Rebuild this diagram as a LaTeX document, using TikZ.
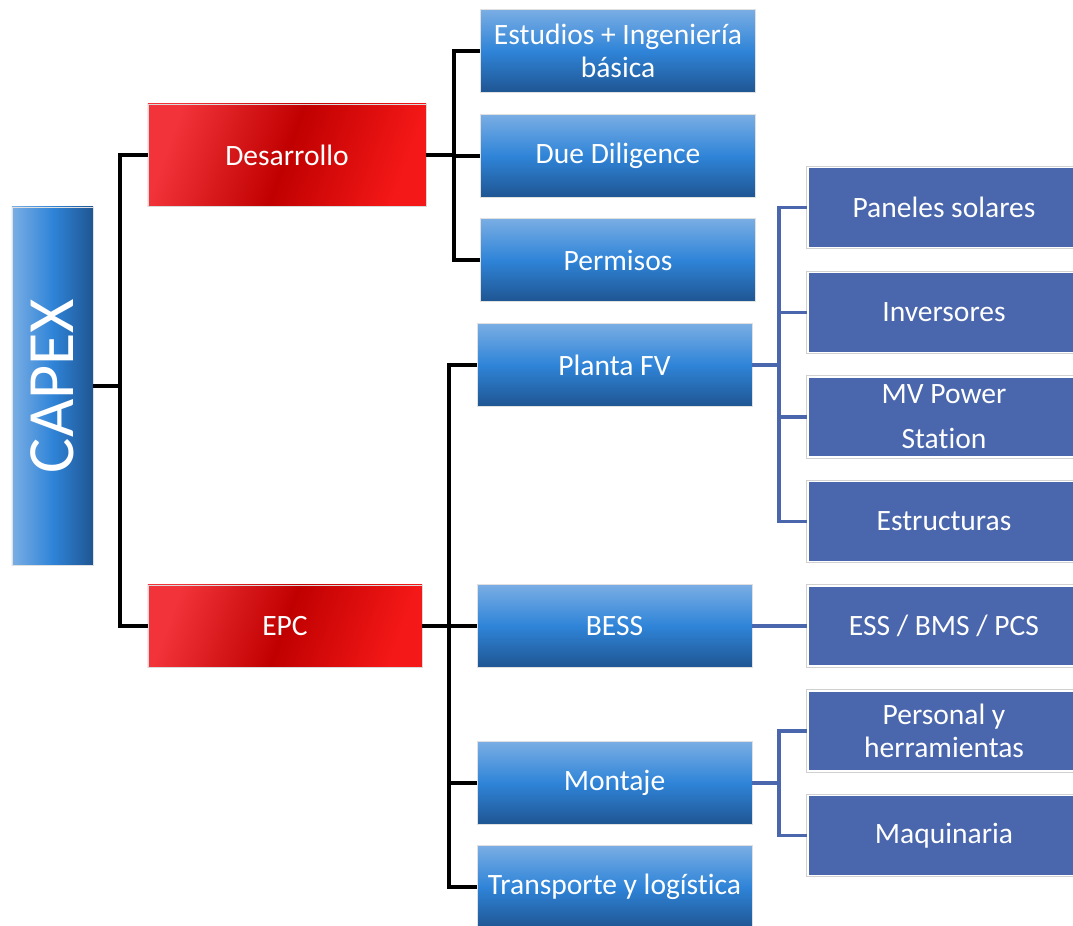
\documentclass[tikz,border=0pt]{standalone}
\usepackage{fontspec}
\setmainfont{Carlito}[Ligatures = NoCommon]
\usepackage{tikz}
\usetikzlibrary{positioning,calc}

\definecolor{lblue}{HTML}{7AAEE4}
\definecolor{mblue}{HTML}{2F84D8}
\definecolor{dblue}{HTML}{1F5592}
\definecolor{lred}{HTML}{F2343A}
\definecolor{mred}{HTML}{C00000}
\definecolor{rred}{HTML}{F51818}
\definecolor{pblue}{HTML}{4A66AC}

\tikzset{
  boxtext/.style = {text = white, font = \fontsize{21}{23}\selectfont, align = center, inner sep = 0pt},
  bluebox/.style = {boxtext, draw = black!12, line width = .4pt, top color = lblue, bottom color = dblue, middle color = mblue, minimum width = 6.87cm, minimum height = 2.08cm},
  redbox/.style = {boxtext, draw = black!15, line width = .4pt, left color = lred, right color = rred, middle color = mred, shading angle = 70, minimum height = 2.05cm},
  leafbox/.style = {boxtext, fill = pblue, draw = white, line width = 1.2pt, preaction = {draw = black!18, line width = 2.6pt}, minimum width = 6.8cm, minimum height = 2cm},
  blackline/.style = {line width = 2.7pt, black},
  leafline/.style = {line width = 2.7pt, pblue}
}

\begin{document}
\begin{tikzpicture}[x = 0.025cm, y = -0.025cm]

\useasboundingbox (0,0) rectangle (1073,926);

% root
\node[boxtext, draw = black!12, left color = lblue, right color = dblue, middle color = mblue, minimum width = 2.03cm, minimum height = 8.95cm] (capex) at (52.5,386) {};
\node[text = white, font = \fontsize{47}{50}\selectfont, rotate = 90] (capexlbl) at (52,386) {CAPEX};

% first level
\node[redbox, minimum width = 6.95cm, minimum height = 2.55cm] (des) at (287,155) {Desarrollo};
\node[redbox, minimum width = 6.85cm] (epc) at (285,626) {EPC};

% under Desarrollo
\node[bluebox] (est) at (618,51) {Estudios + Ingeniería\\básica};
\node[bluebox] (due) at (618,156) {Due Diligence};
\node[bluebox] (perm) at (618,260) {Permisos};

% under EPC
\node[bluebox] (fv) at (614.5,365) {Planta FV};
\node[bluebox] (bess) at (614.5,626) {BESS};
\node[bluebox] (mont) at (614.5,783) {Montaje};
\node[bluebox] (trans) at (614.5,887) {Transporte y logística};

% leaves
\node[leafbox] (pan) at (944,207.5) {Paneles solares};
\node[leafbox] (inv) at (944,312.5) {Inversores};
\node[leafbox] (mvps) at (944,417) {MV Power\\[9pt]Station};
\node[leafbox] (estr) at (944,521.5) {Estructuras};
\node[leafbox] (ess) at (944,626) {ESS / BMS / PCS};
\node[leafbox] (pers) at (944,731) {Personal y\\herramientas};
\node[leafbox] (maq) at (944,835.5) {Maquinaria};

% black connectors
\coordinate (j0) at (120,386);
\coordinate (j1) at (454,155);
\coordinate (j2) at (449,626);
\draw[blackline] (capex.east) -- (j0);
\draw[blackline] (j0) |- (des.west);
\draw[blackline] (j0) |- (epc.west);
\draw[blackline] (des.east) -- (j1);
\draw[blackline] (j1) |- (est.west);
\draw[blackline] (j1) |- (due.west);
\draw[blackline] (j1) |- (perm.west);
\draw[blackline] (epc.east) -- (j2);
\draw[blackline] (j2) |- (fv.west);
\draw[blackline] (j2) -- (bess.west);
\draw[blackline] (j2) |- (mont.west);
\draw[blackline] (j2) |- (trans.west);

% blue connectors
\coordinate (k1) at (779,365);
\coordinate (k2) at (779,783);
\draw[leafline] (fv.east) -- (k1);
\draw[leafline] (k1) |- (pan.west);
\draw[leafline] (k1) |- (inv.west);
\draw[leafline] (k1) |- (mvps.west);
\draw[leafline] (k1) |- (estr.west);
\draw[leafline] (bess.east) -- (ess.west);
\draw[leafline] (mont.east) -- (k2);
\draw[leafline] (k2) |- (pers.west);
\draw[leafline] (k2) |- (maq.west);

\end{tikzpicture}
\end{document}
